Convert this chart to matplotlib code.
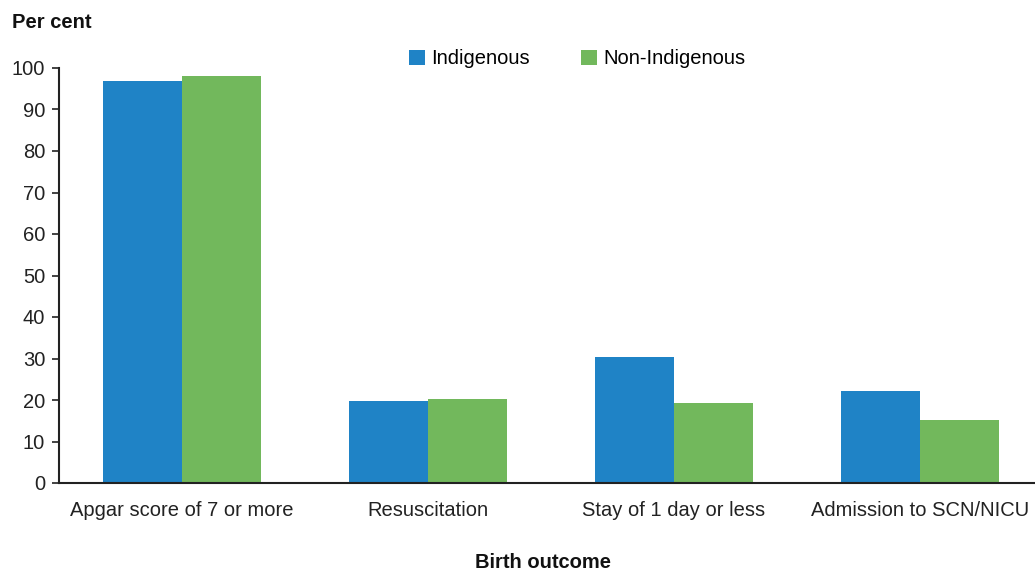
import numpy as np
import matplotlib
matplotlib.use("Agg")
import matplotlib.pyplot as plt

categories = ["Apgar score of 7 or more", "Resuscitation", "Stay of 1 day or less", "Admission to SCN/NICU"]
indigenous = [96.9, 19.8, 30.4, 22.2]
non_indigenous = [98.1, 20.2, 19.3, 15.2]

plt.rcParams['font.family'] = ['Liberation Sans', 'DejaVu Sans']
fs = 14.5

fig = plt.figure(figsize=(10.35, 5.7), dpi=100)
ax = fig.add_axes([59/1035, 1 - 483/570, (1043 - 59)/1035, (483 - 68)/570])

x = np.arange(len(categories))
w = 0.32
ax.bar(x - w/2, indigenous, w, color='#1f83c6', label='Indigenous')
ax.bar(x + w/2, non_indigenous, w, color='#72b85c', label='Non-Indigenous')

ax.set_xlim(-0.5, 3.5)
ax.set_ylim(0, 100)
ax.set_yticks(range(0, 101, 10))
ax.set_xticks(x)
ax.set_xticklabels(categories)
ax.tick_params(axis='x', length=0, pad=13, labelsize=fs, colors='#222222')
ax.tick_params(axis='y', length=5, width=1.2, pad=5, labelsize=fs, colors='#222222', direction='out')
for s in ['top', 'right']:
    ax.spines[s].set_visible(False)
for s in ['left', 'bottom']:
    ax.spines[s].set_linewidth(1.5)
    ax.spines[s].set_color('#222222')

fig.text(12/1035, 1 - 22/570, "Per cent", fontsize=fs, fontweight='bold', va='center', ha='left', color='#111111')
fig.text(543/1035, 1 - 562/570, "Birth outcome", fontsize=fs, fontweight='bold', va='center', ha='center', color='#111111')

ax.legend(loc='center', bbox_to_anchor=(577/1035, 1 - 59/570), bbox_transform=fig.transFigure,
          ncol=2, frameon=False, fontsize=fs, handlelength=0.8, handleheight=0.8,
          handletextpad=0.3, columnspacing=2.55)

fig.savefig("out.png", dpi=100)
